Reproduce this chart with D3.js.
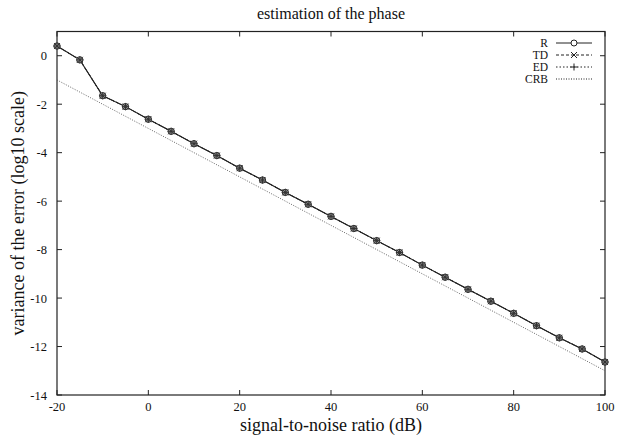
<!DOCTYPE html>
<html>
<head>
<meta charset="utf-8">
<script src="https://cdn.jsdelivr.net/npm/d3@7"></script>
<style>
  body { margin: 0; background: #fff; }
  text { font-family: "Liberation Serif", "Times New Roman", serif; fill: #111; }
</style>
</head>
<body>
<svg id="chart" width="617" height="436"></svg>
<script>
// SNR grid (dB)
const snr = [-20, -15, -10, -5, 0, 5, 10, 15, 20, 25, 30, 35, 40, 45, 50, 55, 60, 65, 70, 75, 80, 85, 90, 95, 100];
// log10 variance of the phase estimation error
const rValues  = [0.4, -0.17, -1.65, -2.1, -2.62, -3.12, -3.63, -4.12, -4.64, -5.13, -5.64, -6.13, -6.63, -7.13, -7.63, -8.12, -8.64, -9.14, -9.64, -10.13, -10.63, -11.14, -11.64, -12.1, -12.64];
const tdValues = [0.4, -0.17, -1.65, -2.1, -2.62, -3.12, -3.63, -4.12, -4.64, -5.13, -5.64, -6.13, -6.63, -7.13, -7.63, -8.12, -8.64, -9.14, -9.64, -10.13, -10.63, -11.14, -11.64, -12.1, -12.64];
const edValues = [0.4, -0.17, -1.65, -2.1, -2.62, -3.12, -3.63, -4.12, -4.64, -5.13, -5.64, -6.13, -6.63, -7.13, -7.63, -8.12, -8.64, -9.14, -9.64, -10.13, -10.63, -11.14, -11.64, -12.1, -12.64];
// Cramer-Rao bound
const crbValues = [-1.0, -1.5, -2.0, -2.5, -3.0, -3.5, -4.0, -4.5, -5.0, -5.5, -6.0, -6.5, -7.0, -7.5, -8.0, -8.5, -9.0, -9.5, -10.0, -10.5, -11.0, -11.5, -12.0, -12.5, -13.0];

const xTicks = [-20, 0, 20, 40, 60, 80, 100];
const yTicks = [0, -2, -4, -6, -8, -10, -12, -14];
const legendLabels = ["R", "TD", "ED", "CRB"];

const svg = d3.select("#chart");
const m = { left: 57, right: 12, top: 31.5, bottom: 41 };
const W = 617, H = 436;

const x = d3.scaleLinear().domain([-20, 100]).range([m.left, W - m.right]);
const y = d3.scaleLinear().domain([-14, 1]).range([H - m.bottom, m.top]);

const ink = "#222";

// frame
svg.append("rect")
  .attr("x", x(-20)).attr("y", y(1))
  .attr("width", x(100) - x(-20)).attr("height", y(-14) - y(1))
  .attr("fill", "none").attr("stroke", ink).attr("stroke-width", 1.2);

// inward ticks on all four sides
const tl = 5;
const g = svg.append("g").attr("stroke", ink).attr("stroke-width", 1);
xTicks.forEach(t => {
  g.append("line").attr("x1", x(t)).attr("x2", x(t)).attr("y1", y(-14)).attr("y2", y(-14) - tl);
  g.append("line").attr("x1", x(t)).attr("x2", x(t)).attr("y1", y(1)).attr("y2", y(1) + tl);
});
yTicks.forEach(t => {
  g.append("line").attr("x1", x(-20)).attr("x2", x(-20) + tl).attr("y1", y(t)).attr("y2", y(t));
  g.append("line").attr("x1", x(100)).attr("x2", x(100) - tl).attr("y1", y(t)).attr("y2", y(t));
});

// tick labels
svg.append("g").selectAll("text").data(xTicks).join("text")
  .attr("x", d => x(d)).attr("y", y(-14) + 16)
  .attr("text-anchor", "middle").attr("font-size", 12.5)
  .text(d => d);
svg.append("g").selectAll("text").data(yTicks).join("text")
  .attr("x", x(-20) - 10).attr("y", d => y(d) + 4.5)
  .attr("text-anchor", "end").attr("font-size", 12.5)
  .text(d => d);

// titles
svg.append("text").attr("x", (x(-20) + x(100)) / 2).attr("y", 19)
  .attr("text-anchor", "middle").attr("font-size", 16).text("estimation of the phase");
svg.append("text").attr("x", (x(-20) + x(100)) / 2).attr("y", 431)
  .attr("text-anchor", "middle").attr("font-size", 18).text("signal-to-noise ratio (dB)");
svg.append("text")
  .attr("transform", `translate(24,${(y(1) + y(-14)) / 2}) rotate(-90)`)
  .attr("text-anchor", "middle").attr("font-size", 18).text("variance of the error (log10 scale)");

const line = d3.line().x(d => x(d[0])).y(d => y(d[1]));
const pts = vals => snr.map((s, i) => [s, vals[i]]);

// CRB (dotted)
svg.append("path").datum(pts(crbValues)).attr("d", line)
  .attr("fill", "none").attr("stroke", "#555").attr("stroke-width", 0.9).attr("stroke-dasharray", "1,1.5");
// ED (dotted)
svg.append("path").datum(pts(edValues)).attr("d", line)
  .attr("fill", "none").attr("stroke", ink).attr("stroke-width", 1).attr("stroke-dasharray", "2,2");
// TD (dashed)
svg.append("path").datum(pts(tdValues)).attr("d", line)
  .attr("fill", "none").attr("stroke", ink).attr("stroke-width", 1).attr("stroke-dasharray", "4,2");
// R (solid)
svg.append("path").datum(pts(rValues)).attr("d", line)
  .attr("fill", "none").attr("stroke", ink).attr("stroke-width", 1.1);

// markers
const mk = svg.append("g").attr("fill", "none").attr("stroke", "#333").attr("stroke-width", 1);
function circleMark(sel, cx, cy) { sel.append("circle").attr("cx", cx).attr("cy", cy).attr("r", 3.2).attr("fill", "#999"); }
function crossMark(sel, cx, cy) {
  sel.append("path").attr("d", `M${cx-3},${cy-3}L${cx+3},${cy+3}M${cx-3},${cy+3}L${cx+3},${cy-3}`);
}
function plusMark(sel, cx, cy) {
  sel.append("path").attr("d", `M${cx-3.5},${cy}L${cx+3.5},${cy}M${cx},${cy-3.5}L${cx},${cy+3.5}`);
}
snr.forEach((s, i) => {
  circleMark(mk, x(s), y(rValues[i]));
  crossMark(mk, x(s), y(tdValues[i]));
  plusMark(mk, x(s), y(edValues[i]));
});

// legend
const lg = svg.append("g");
const styles = [
  { dash: null, mark: circleMark },
  { dash: "3,2", mark: crossMark },
  { dash: "1.5,2", mark: plusMark },
  { dash: "1,1.5", mark: null }
];
legendLabels.forEach((lab, i) => {
  const yy = 43 + i * 12;
  lg.append("text").attr("x", 548).attr("y", yy + 4).attr("text-anchor", "end")
    .attr("font-size", 11.5).text(lab);
  lg.append("line").attr("x1", 556).attr("x2", 592).attr("y1", yy).attr("y2", yy)
    .attr("stroke", ink).attr("stroke-width", 1)
    .attr("stroke-dasharray", styles[i].dash);
  if (styles[i].mark) {
    const gg = lg.append("g").attr("fill", "none").attr("stroke", ink).attr("stroke-width", 1);
    if (i === 0) gg.append("circle").attr("cx", 574).attr("cy", yy).attr("r", 3).attr("fill", "#fff");
    else styles[i].mark(gg, 574, yy);
  }
});
</script>
</body>
</html>
